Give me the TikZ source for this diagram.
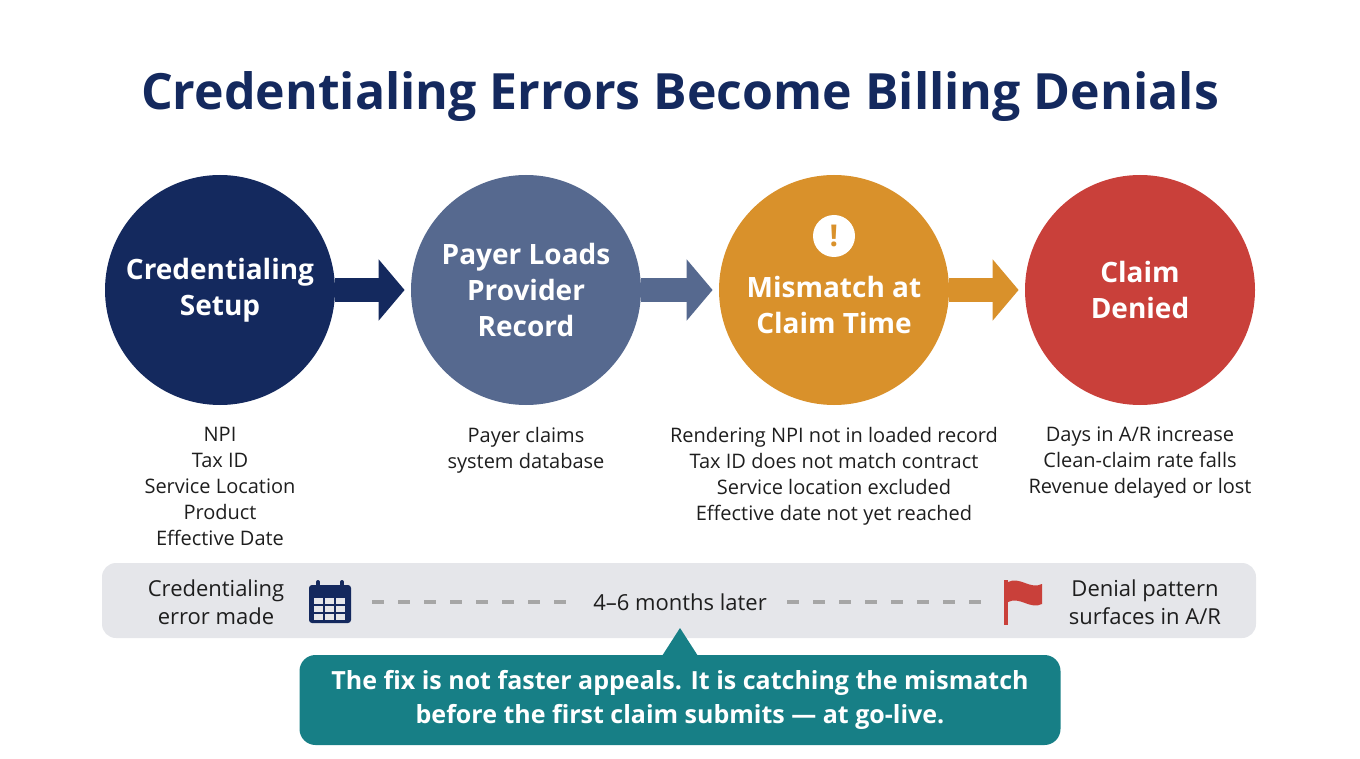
\documentclass[tikz,border=0pt]{standalone}
\usepackage{fontspec}
\setmainfont{Open Sans}
\usetikzlibrary{positioning,arrows.meta}
\definecolor{navy}{HTML}{14295E}
\definecolor{slate}{HTML}{56698F}
\definecolor{amber}{HTML}{D9912B}
\definecolor{brick}{HTML}{C9403A}
\definecolor{band}{HTML}{E5E6EA}
\definecolor{teal}{HTML}{177F86}
\definecolor{ink}{HTML}{1E1E1E}
\tikzset{
  step/.style={circle, minimum size=115pt, inner sep=0pt, fill=#1, text=white,
    font=\bfseries\fontsize{14}{18}\selectfont, align=center},
  flow/.style={line width=12pt, -{Triangle[width=30pt,length=13pt]}, draw=#1, shorten >=3pt},
  notes/.style={font=\fontsize{10}{13}\selectfont, text=ink, align=center, anchor=north},
  band text/.style={font=\fontsize{11}{14}\selectfont, text=ink, align=center},
  timeline/.style={gray!70, line width=2pt, dash pattern=on 6pt off 7pt}
}
\begin{document}
\begin{tikzpicture}[x=0.5pt,y=-0.5pt]
        \useasboundingbox (0,0) rectangle (1360,759);
        \node[font=\bfseries\fontsize{25}{30}\selectfont, text=navy] (title) at (680,97) {Credentialing Errors Become Billing Denials};

        % the four stages
        \node[step=navy] (setup) at (220,290) {Credentialing\\Setup};
        \node[step=slate] (load) at (526,290) {Payer Loads\\Provider\\Record};
        \node[step=amber] (mismatch) at (834,290) {\\[8pt]Mismatch at\\Claim Time};
        \node[step=brick] (denied) at (1140,290) {Claim\\Denied};
        \node[circle, fill=white, minimum size=21pt, inner sep=0pt, text=amber, font=\bfseries\fontsize{15}{15}\selectfont] (alert) at (834,236) {!};

        \draw[flow=navy] (setup.east) -- (load.west);
        \draw[flow=slate] (load.east) -- (mismatch.west);
        \draw[flow=amber] (mismatch.east) -- (denied.west);

        \node[notes] (setupnotes) at (220,420) {NPI\\Tax ID\\Service Location\\Product\\Effective Date};
        \node[notes] (loadnotes) at (526,420) {Payer claims\\system database};
        \node[notes] (mismatchnotes) at (834,420) {Rendering NPI not in loaded record\\Tax ID does not match contract\\Service location excluded\\Effective date not yet reached};
        \node[notes] (deniednotes) at (1140,420) {Days in A/R increase\\Clean-claim rate falls\\Revenue delayed or lost};

        % timeline band
        \fill[band, rounded corners=7pt] (102,563) rectangle (1256,638);
        \node[band text] (start) at (216,602) {Credentialing\\error made};
        \node[band text, outer sep=7pt] (gap) at (680,602) {4–6 months later};
        \node[band text] (finish) at (1145,602) {Denial pattern\\surfaces in A/R};

        % calendar icon
        \node[fill=navy, minimum width=21pt, minimum height=19pt, inner sep=0pt, rounded corners=1.5pt] (cal) at (330,604) {};
        \foreach \i in {0,1,2} \foreach \j in {0,1,2}
          \fill[band] (314+\i*11,598+\j*8) rectangle ++(9,6);
        \foreach \i in {318,342} \draw[navy, line width=2pt, line cap=round] (\i,582) -- (\i,590);

        % flag icon
        \draw[brick, line width=2pt] (1006,580) -- ++(0,45);
        \fill[brick] (1008,582) .. controls (1020,576) and (1030,590) .. (1042,584) -- (1042,604) .. controls (1030,610) and (1020,596) .. (1008,602) -- cycle;
        \coordinate (calend) at (372,602);
        \coordinate (flagtip) at (986,602);

        \draw[timeline] (calend) -- (gap.west);
        \draw[timeline] (gap.east) -- (flagtip);

        % takeaway
        \fill[teal] (662,656) -- (680,628) -- (698,656) -- cycle;
        \node[fill=teal, rounded corners=8pt, minimum width=380.5pt, minimum height=45pt, text=white, align=center, font=\bfseries\fontsize{12.5}{17}\selectfont] (fix) at (680,700) {The fix is not faster appeals. It is catching the mismatch\\before the first claim submits — at go-live.};
\end{tikzpicture}
\end{document}
